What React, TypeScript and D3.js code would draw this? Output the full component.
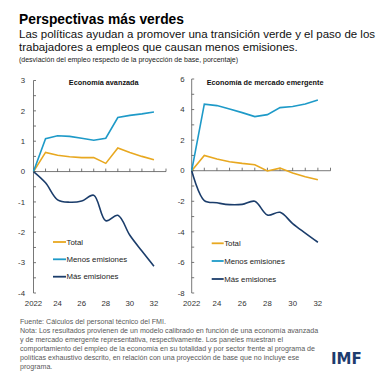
import React from "react";
import * as d3 from "d3";

const years = [2022, 2023, 2024, 2025, 2026, 2027, 2028, 2029, 2030, 2031, 2032];

const advTotal = [0, 0.63, 0.54, 0.49, 0.46, 0.46, 0.27, 0.78, 0.63, 0.5, 0.39];
const advLess = [0, 1.08, 1.18, 1.16, 1.1, 1.03, 1.1, 1.78, 1.85, 1.9, 1.96];
const advMore = [0, -0.37, -0.93, -1.01, -0.97, -0.78, -1.62, -1.44, -2.1, -2.62, -3.12];

const emTotal = [0, 1.0, 0.76, 0.59, 0.48, 0.39, -0.02, 0.17, -0.15, -0.39, -0.59];
const emLess = [0, 4.35, 4.26, 4.04, 3.8, 3.54, 3.67, 4.13, 4.2, 4.36, 4.63];
const emMore = [0, -1.95, -2.1, -2.22, -2.2, -2.0, -2.9, -2.72, -3.46, -4.08, -4.68];

const xTickLabels = ["2022", "24", "26", "28", "30", "32"];
const xTickYears = [2022, 2024, 2026, 2028, 2030, 2032];
const advYTicks = [3, 2, 1, 0, -1, -2, -3, -4];
const emYTicks = [6, 4, 2, 0, -2, -4, -6, -8];

const seriesNames = ["Total", "Menos emisiones", "Más emisiones"];
const colors = ["#E8A820", "#1E9AC8", "#1B3D6B"];

const footerLines = [
  "Fuente: Cálculos del personal técnico del FMI.",
  "Nota: Los resultados provienen de un modelo calibrado en función de una economía avanzada",
  "y de mercado emergente representativa, respectivamente. Los paneles muestran el",
  "comportamiento del empleo de la economía en su totalidad y por sector frente al programa de",
  "políticas exhaustivo descrito, en relación con una proyección de base que no incluye ese",
  "programa.",
];

const FONT = "'Liberation Sans', Arial, sans-serif";

type PanelProps = {
  x0: number;
  x1: number;
  yTop: number;
  yBottom: number;
  yDomain: [number, number];
  yTicks: number[];
  minorStep: number;
  labelGap: number;
  title: string;
  series: number[][];
  legendOffset: number;
  legendLen: number;
  legendYs: number[];
};

function Panel(p: PanelProps) {
  const x = d3.scaleLinear().domain([2022, 2033]).range([p.x0, p.x1]);
  const y = d3.scaleLinear().domain(p.yDomain).range([p.yBottom, p.yTop]);
  const linear = d3
    .line<number>()
    .x((_, i) => x(years[i]))
    .y((d) => y(d));
  const smooth = d3
    .line<number>()
    .x((_, i) => x(years[i]))
    .y((d) => y(d))
    .curve(d3.curveCatmullRom.alpha(0.5));
  const minor = d3.range(p.yDomain[0], p.yDomain[1] + 1e-9, p.minorStep);
  const allYears = d3.range(2022, 2034);
  const axisX = x(2022);
  const zeroY = y(0);
  const lx = axisX + p.legendOffset;
  return (
    <g>
      <line x1={axisX} x2={axisX} y1={y(p.yDomain[1])} y2={y(p.yDomain[0])} stroke="#555" strokeWidth={0.8} />
      {minor.map((v) => (
        <line key={"m" + v} x1={axisX} x2={axisX + 2.5} y1={y(v)} y2={y(v)} stroke="#555" strokeWidth={0.8} />
      ))}
      {p.yTicks.map((v) => (
        <text
          key={"yt" + v}
          x={axisX - p.labelGap}
          y={y(v)}
          dy="0.35em"
          textAnchor="end"
          fontSize={7.8}
          fontFamily={FONT}
          fill="#333"
        >
          {v}
        </text>
      ))}
      <line x1={axisX} x2={x(2033)} y1={zeroY} y2={zeroY} stroke="#555" strokeWidth={0.8} />
      {allYears.map((yr) => (
        <line key={"xt" + yr} x1={x(yr)} x2={x(yr)} y1={zeroY} y2={zeroY - 3} stroke="#555" strokeWidth={0.8} />
      ))}
      {xTickYears.map((yr, i) => (
        <text
          key={"xl" + yr}
          x={x(yr)}
          y={306}
          textAnchor="middle"
          fontSize={7.8}
          fontFamily={FONT}
          fill="#333"
        >
          {xTickLabels[i]}
        </text>
      ))}
      <text
        x={(axisX + x(2033)) / 2 + 4}
        y={85}
        textAnchor="middle"
        fontSize={7.3}
        fontWeight="bold"
        fontFamily={FONT}
        fill="#111"
      >
        {p.title}
      </text>
      <path d={linear(p.series[0]) || ""} fill="none" stroke={colors[0]} strokeWidth={1.6} />
      <path d={linear(p.series[1]) || ""} fill="none" stroke={colors[1]} strokeWidth={1.6} />
      <path d={smooth(p.series[2]) || ""} fill="none" stroke={colors[2]} strokeWidth={1.6} />
      {seriesNames.map((name, i) => (
        <g key={name}>
          <line
            x1={lx}
            x2={lx + p.legendLen}
            y1={p.legendYs[i]}
            y2={p.legendYs[i]}
            stroke={colors[i]}
            strokeWidth={1.8}
          />
          <text
            x={lx + p.legendLen + 0.5}
            y={p.legendYs[i]}
            dy="0.35em"
            fontSize={7.8}
            fontFamily={FONT}
            fill="#222"
          >
            {name}
          </text>
        </g>
      ))}
    </g>
  );
}

export default function App() {
  return (
    <svg
      width={384}
      height={384}
      viewBox="0 0 384 384"
      style={{ position: "absolute", left: 0, top: 0, background: "#fff" }}
    >
      <rect x={0} y={0} width={384} height={384} fill="#fff" />
      <text x={19} y={23.5} fontSize={13.8} fontWeight="bold" fontFamily={FONT} fill="#000">
        Perspectivas más verdes
      </text>
      <text x={19} y={38} fontSize={11.5} fontFamily={FONT} fill="#111">
        Las políticas ayudan a promover una transición verde y el paso de los
      </text>
      <text x={19} y={51} fontSize={11.5} fontFamily={FONT} fill="#111">
        trabajadores a empleos que causan menos emisiones.
      </text>
      <text x={19} y={62} fontSize={7} fontFamily={FONT} fill="#222">
        (desviación del empleo respecto de la proyección de base, porcentaje)
      </text>

      <Panel
        x0={33.5}
        x1={166}
        yTop={80.5}
        yBottom={293}
        yDomain={[-4, 3]}
        yTicks={advYTicks}
        minorStep={0.5}
        labelGap={8.5}
        title="Economía avanzada"
        series={[advTotal, advLess, advMore]}
        legendOffset={19.5}
        legendLen={13}
        legendYs={[242, 259.3, 276.7]}
      />
      <Panel
        x0={191.7}
        x1={330.5}
        yTop={79}
        yBottom={293}
        yDomain={[-8, 6]}
        yTicks={emYTicks}
        minorStep={1}
        labelGap={7}
        title="Economía de mercado emergente"
        series={[emTotal, emLess, emMore]}
        legendOffset={20}
        legendLen={12}
        legendYs={[243.3, 261, 279]}
      />

      {footerLines.map((t, i) => (
        <text key={i} x={20} y={323.5 + i * 9} fontSize={7.1} fontFamily={FONT} fill="#595959">
          {t}
        </text>
      ))}
      <text x={331} y={364} fontSize={15} fontWeight="bold" fontFamily="'DejaVu Sans', sans-serif" fill="#1D3C6E">
        IMF
      </text>
    </svg>
  );
}
